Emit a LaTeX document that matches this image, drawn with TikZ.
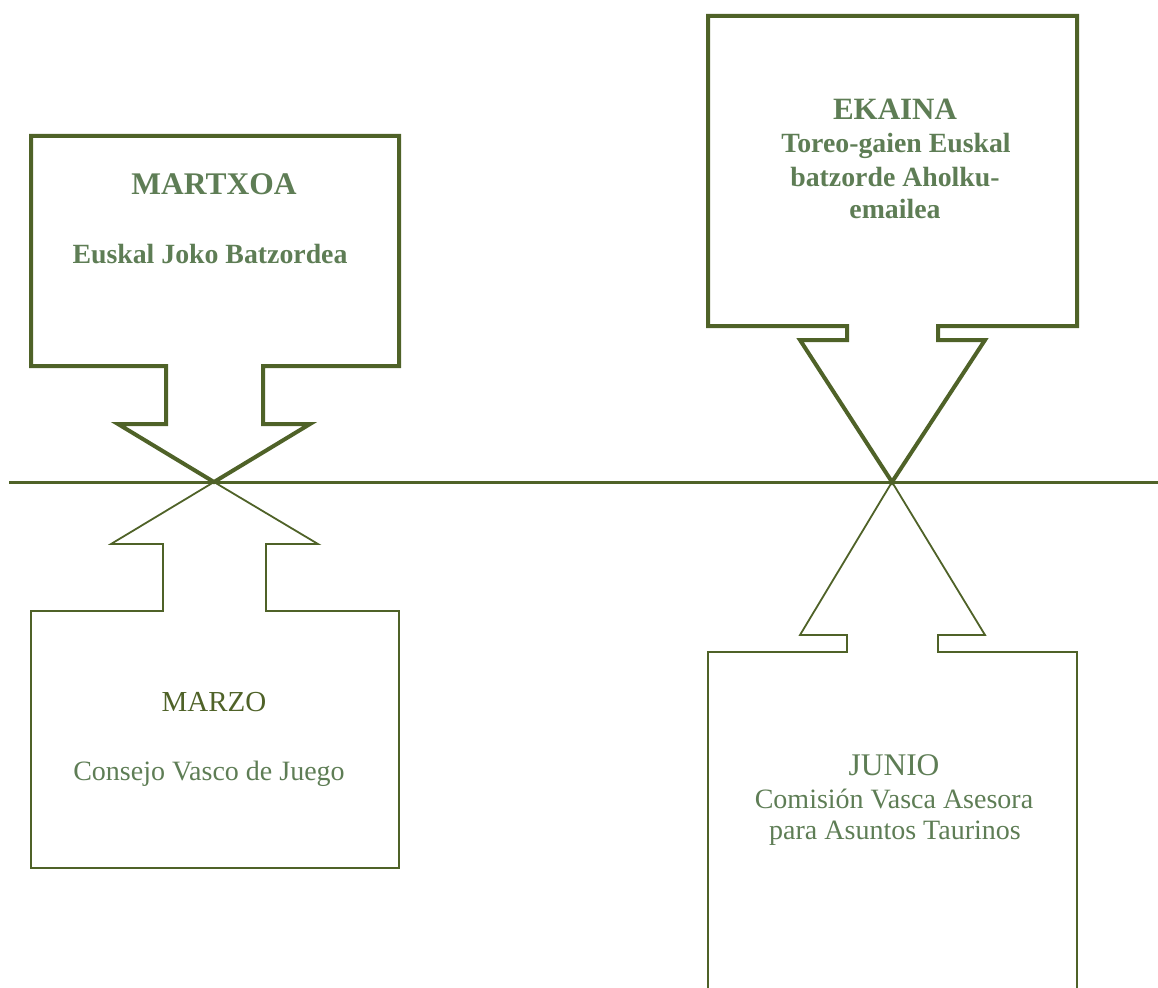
\documentclass[tikz,border=0pt]{standalone}
\usepackage{fontspec}
\setmainfont{Liberation Serif}
\definecolor{lineolive}{HTML}{4F6228}
\definecolor{txtgreen}{HTML}{5E7D55}
\begin{document}
\begin{tikzpicture}[x=1pt,y=-1pt,
  thickbox/.style={draw=lineolive, line width=4pt, line join=miter},
  thinbox/.style={draw=lineolive, line width=1.8pt, line join=miter},
  boldhead/.style={anchor=base, inner sep=0pt, text=txtgreen, font=\fontsize{31.5}{32}\selectfont\bfseries},
  boldsub/.style={anchor=base, inner sep=0pt, text=txtgreen, font=\fontsize{27.8}{32}\selectfont\bfseries},
  reghead/.style={anchor=base, inner sep=0pt, text=txtgreen, font=\fontsize{31.5}{32}\selectfont},
  regsub/.style={anchor=base, inner sep=0pt, text=txtgreen, font=\fontsize{28}{32}\selectfont}]
\useasboundingbox (0,0) rectangle (1158,987);
\clip (0,0) rectangle (1158,987);

% tips on the time line
\coordinate (tipA) at (214,482);
\coordinate (tipB) at (892,482);
\coordinate (lineL) at (9,482);
\coordinate (lineR) at (1158,482);

% time line
\draw[draw=lineolive, line width=3pt] (lineL) -- (tipA) -- (tipB) -- (lineR);

% MARTXOA (top left, thick)
\draw[thickbox] (31,136) -- (399,136) -- (399,366) -- (263,366) -- (263,424) -- (310,424)
  -- (tipA) -- (118,424) -- (166,424) -- (166,366) -- (31,366) -- cycle;

% MARZO (bottom left, thin)
\draw[thinbox] (31,611) -- (163,611) -- (163,544) -- (111,544) -- (tipA) -- (318,544)
  -- (266,544) -- (266,611) -- (399,611) -- (399,868) -- (31,868) -- cycle;

% EKAINA (top right, thick)
\draw[thickbox] (708,16) -- (1077,16) -- (1077,326) -- (938,326) -- (938,340) -- (985,340)
  -- (tipB) -- (800,340) -- (847,340) -- (847,326) -- (708,326) -- cycle;

% JUNIO (bottom right, thin)
\draw[thinbox] (708,995) -- (708,652) -- (847,652) -- (847,635) -- (800,635) -- (tipB)
  -- (985,635) -- (938,635) -- (938,652) -- (1077,652) -- (1077,995);

% texts
\node[boldhead] (martxoa) at (214,194) {MARTXOA};
\node[boldsub]  (euskal)  at (210,263) {Euskal Joko Batzordea};

\node[reghead, text=lineolive, font=\fontsize{29}{32}\selectfont] (marzo) at (214,711) {MARZO};
\node[regsub]   (consejo) at (209,780) {Consejo Vasco de Juego};

\node[boldhead, font=\fontsize{31}{32}\selectfont\bfseries] (ekaina) at (895,120) {EKAINA};
\node[boldsub]  (ek1) at (896,153) {Toreo-gaien Euskal};
\node[boldsub]  (ek2) at (895,186) {batzorde Aholku-};
\node[boldsub]  (ek3) at (895,218) {emailea};

\node[reghead]  (junio) at (894,775) {JUNIO};
\node[regsub]   (ju1) at (894,808) {Comisión Vasca Asesora};
\node[regsub]   (ju2) at (895,839) {para Asuntos Taurinos};
\end{tikzpicture}
\end{document}
